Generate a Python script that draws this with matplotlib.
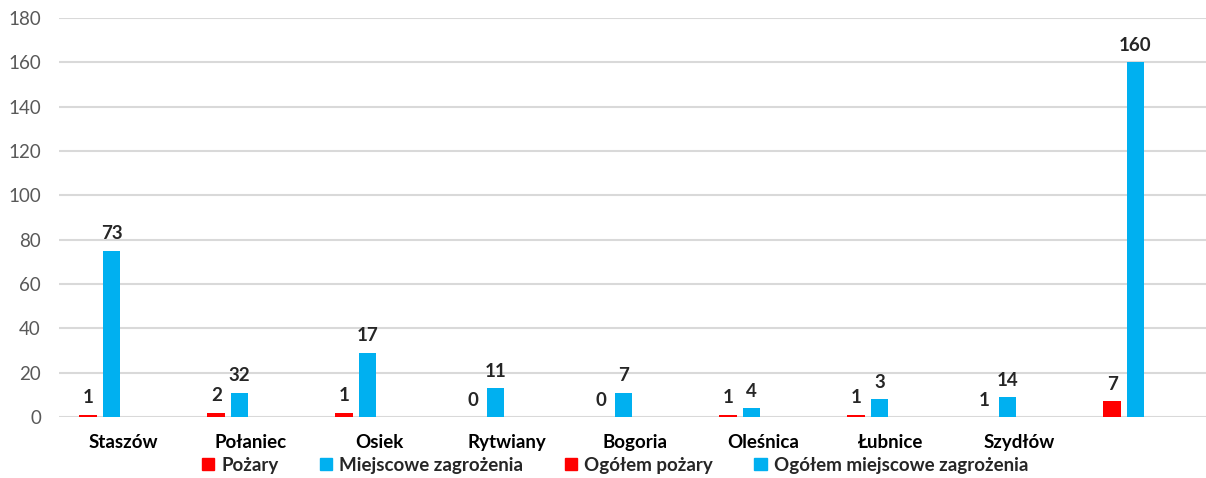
import numpy as np
import matplotlib
import matplotlib.pyplot as plt
from matplotlib.patches import Patch
matplotlib.use('Agg')

plt.rcParams['font.family'] = ['Lato', 'DejaVu Sans']

categories = ["Staszów", "Połaniec", "Osiek", "Rytwiany", "Bogoria",
              "Oleśnica", "Łubnice", "Szydłów", ""]
series_names = ["Pożary", "Miejscowe zagrożenia", "Ogółem pożary",
                "Ogółem miejscowe zagrożenia"]

# bar heights as drawn in the picture
pozary = [1, 2, 2, 0, 0, 1, 1, 0, 7]
miejscowe = [75, 11, 29, 13, 11, 4, 8, 9, 160]
ogolem_pozary = [0, 0, 0, 0, 0, 0, 0, 0, 0]
ogolem_miejscowe = [0, 0, 0, 0, 0, 0, 0, 0, 0]

# data labels as printed in the picture
pozary_labels = ["1", "2", "1", "0", "0", "1", "1", "1", "7"]
miejscowe_labels = ["73", "32", "17", "11", "7", "4", "3", "14", "160"]

colors = ["#FF0000", "#00B0F0", "#FF0000", "#00B0F0"]

fig = plt.figure(figsize=(12.06, 4.78), dpi=100)
ax = fig.add_axes([59 / 1206, 61 / 478, 1147 / 1206, 399 / 478])

x = np.arange(len(categories))
step = 0.18
width = 0.14
all_series = [pozary, miejscowe, ogolem_pozary, ogolem_miejscowe]
bars = []
for i, vals in enumerate(all_series):
    b = ax.bar(x + (i - 1.5) * step, vals, width, color=colors[i], zorder=3)
    bars.append(b)

# value labels above the first two series
for b, labels in ((bars[0], pozary_labels), (bars[1], miejscowe_labels)):
    for rect, lab in zip(b, labels):
        ax.annotate(lab, (rect.get_x() + rect.get_width() / 2, rect.get_height()),
                    xytext=(0, 6), textcoords="offset points",
                    ha="center", va="bottom", fontsize=13.5, fontweight="bold",
                    color="#262626", annotation_clip=False)

ax.set_xlim(-0.5, -0.5 + 1147 / 128)
ax.set_ylim(0, 180)
ax.set_yticks(range(0, 181, 20))
ax.set_xticks(x)
ax.set_xticklabels(categories, fontsize=13.5, fontweight="bold", color="#000000")
ax.tick_params(axis="y", length=0, pad=13, labelsize=13.5, labelcolor="#595959")
ax.tick_params(axis="x", length=0, pad=12)
ax.yaxis.grid(True, color="#D9D9D9", linewidth=1.5, zorder=0)
ax.set_axisbelow(True)
for s in ax.spines.values():
    s.set_visible(False)

handles = [Patch(color=c) for c in colors]
leg = fig.legend(handles, series_names, loc="center", bbox_to_anchor=(615 / 1206, 1 - 465 / 478),
                 ncol=4, frameon=False, handlelength=0.65, handleheight=0.65,
                 handletextpad=0.4, columnspacing=2.2,
                 prop={"size": 13.5, "weight": "bold"})
for t in leg.get_texts():
    t.set_color("#262626")

plt.savefig("out.png", dpi=100)
